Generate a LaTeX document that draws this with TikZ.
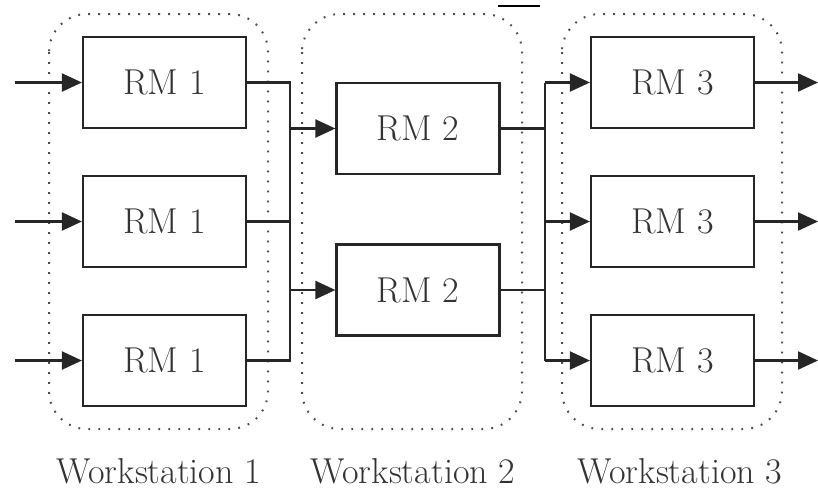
\documentclass[tikz,border=0pt]{standalone}
\usetikzlibrary{arrows.meta}
\begin{document}
\begin{tikzpicture}[x=0.5pt,y=-0.5pt,
  rmbox/.style={draw=black!85, line width=1.1pt, minimum width=81.5pt, minimum height=45.5pt,
    inner sep=0pt, font=\fontsize{18}{21}\selectfont, text=black!80},
  wsbox/.style={draw=black!70, line width=1pt, dash pattern=on 0.9pt off 4.1pt, rounded corners=19pt},
  wslabel/.style={font=\fontsize{18}{21}\selectfont, text=black!80},
  link/.style={draw=black!85, line width=1.1pt},
  flow/.style={link, -{Triangle[length=10pt,width=9pt]}}]
\useasboundingbox (0,0) rectangle (818,493);

% workstation groups
\draw[wsbox] (49,14) rectangle (268,429);
\draw[wsbox] (302,14) rectangle (522,429);
\draw[wsbox] (562,14) rectangle (782,429);

% machines
\node[rmbox] (r1a) at (164.5,82.5) {RM 1};
\node[rmbox] (r1b) at (164.5,221.5) {RM 1};
\node[rmbox] (r1c) at (164.5,360.5) {RM 1};
\node[rmbox] (r2a) at (418,128.5) {RM 2};
\node[rmbox] (r2b) at (418,290) {RM 2};
\node[rmbox] (r3a) at (672.5,82.5) {RM 3};
\node[rmbox] (r3b) at (672.5,221.5) {RM 3};
\node[rmbox] (r3c) at (672.5,360.5) {RM 3};

% labels
\node[wslabel] (w1) at (159,471) {Workstation 1};
\node[wslabel] (w2) at (413,471) {Workstation 2};
\node[wslabel] (w3) at (680,471) {Workstation 3};

% free ends and junctions
\coordinate (ina) at (15,82.5);
\coordinate (inb) at (15,221.5);
\coordinate (inc) at (15,360.5);
\coordinate (outa) at (818,82.5);
\coordinate (outb) at (818,221.5);
\coordinate (outc) at (818,360.5);
\coordinate (jb) at (290,360.5);
\coordinate (kb) at (545,360.5);

% inputs
\draw[flow] (ina) -- (r1a.west);
\draw[flow] (inb) -- (r1b.west);
\draw[flow] (inc) -- (r1c.west);

% merge after workstation 1
\draw[link] (r1a.east) -| (jb) -- (r1c.east);
\draw[link] (r1b.east) -- (r1b.east -| jb);
\draw[flow] (r2a.west -| jb) -- (r2a.west);
\draw[flow] (r2b.west -| jb) -- (r2b.west);

% split after workstation 2
\draw[link] (kb |- r3a.west) -- (kb);
\draw[link] (r2a.east) -- (r2a.east -| kb);
\draw[link] (r2b.east) -- (r2b.east -| kb);
\draw[flow] (kb |- r3a.west) -- (r3a.west);
\draw[flow] (kb |- r3b.west) -- (r3b.west);
\draw[flow] (kb) -- (r3c.west);

% outputs
\draw[flow] (r3a.east) -- (outa);
\draw[flow] (r3b.east) -- (outb);
\draw[flow] (r3c.east) -- (outc);

% short bar along the top edge
\draw[line width=1.2pt] (498,6) -- (540,6);
\end{tikzpicture}
\end{document}
